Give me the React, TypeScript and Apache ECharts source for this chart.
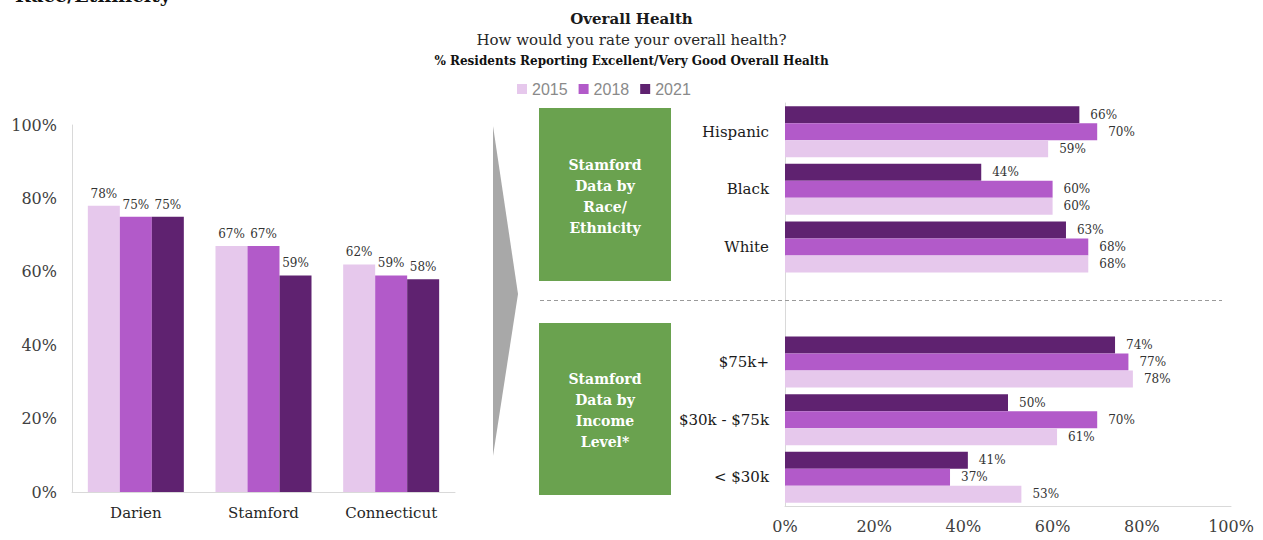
import React, { useEffect, useRef } from "react";
import * as echarts from "echarts";

const years = ["2015", "2018", "2021"];
const colors = ["#e6c8ec", "#b25ac9", "#5f2270"];

const regions = ["Darien", "Stamford", "Connecticut"];
const region2015 = [78, 67, 62];
const region2018 = [75, 67, 59];
const region2021 = [75, 59, 58];

const groups = ["Hispanic", "Black", "White", "", "$75k+", "$30k - $75k", "< $30k"];
const group2015 = [59, 60, 68, null, 78, 61, 53];
const group2018 = [70, 60, 68, null, 77, 70, 37];
const group2021 = [66, 44, 63, null, 74, 50, 41];

const pctTicks = { min: 0, max: 100, interval: 20 };

const SERIF = "DejaVu Serif";
const AXIS_GRAY = "#d9d9d9";

export default function App() {
  const ref = useRef<HTMLDivElement>(null);
  useEffect(() => {
    document.body.style.margin = "0";
    const chart = echarts.init(ref.current!, null, { renderer: "svg" });
    const labelStyle = { fontFamily: SERIF, fontSize: 12, color: "#333" };
    const leftSeries = [region2015, region2018, region2021].map((d, i) => ({
      name: years[i],
      type: "bar",
      xAxisIndex: 0,
      yAxisIndex: 0,
      data: d,
      barWidth: 32,
      barGap: "0%",
      itemStyle: { color: colors[i] },
      label: { show: true, position: "top", distance: 6, formatter: "{c}%", ...labelStyle },
    }));
    const rightData = [group2021, group2018, group2015];
    const rightNames = ["2021", "2018", "2015"];
    const rightColors = [colors[2], colors[1], colors[0]];
    const rightSeries = rightData.map((d, i) => ({
      name: rightNames[i],
      type: "bar",
      xAxisIndex: 1,
      yAxisIndex: 1,
      data: d,
      barWidth: 17,
      barGap: "0%",
      itemStyle: { color: rightColors[i] },
      label: { show: true, position: "right", distance: 11, formatter: "{c}%", ...labelStyle },
    }));

    const boxText = (text: string, cy: number) => ({
      type: "text",
      x: 605,
      y: cy,
      style: {
        text,
        fill: "#ffffff",
        font: `bold 14px "${SERIF}"`,
        align: "center",
        verticalAlign: "middle",
        lineHeight: 21,
      },
    });

    chart.setOption({
      animation: false,
      backgroundColor: "#ffffff",
      title: [
        {
          text: "Overall Health",
          left: "center",
          top: 11,
          padding: 0,
          textStyle: { fontFamily: SERIF, fontSize: 15, fontWeight: "bold", color: "#1a1a1a" },
        },
        {
          text: "How would you rate your overall health?",
          left: "center",
          top: 32,
          padding: 0,
          textStyle: { fontFamily: SERIF, fontSize: 15, fontWeight: "normal", color: "#262626" },
        },
        {
          text: "% Residents Reporting Excellent/Very Good Overall Health",
          left: "center",
          top: 55,
          padding: 0,
          textStyle: { fontFamily: SERIF, fontSize: 12, fontWeight: "bold", color: "#111" },
        },
      ],
      legend: {
        data: years,
        left: 517,
        top: 81,
        padding: 0,
        itemWidth: 10,
        itemHeight: 10,
        itemGap: 11,
        icon: "rect",
        textStyle: { fontFamily: "Liberation Sans", fontSize: 16, color: "#8a8a8a" },
      },
      grid: [
        { left: 72, top: 125, width: 383, height: 367 },
        { left: 785, top: 103, width: 446, height: 403 },
      ],
      xAxis: [
        {
          gridIndex: 0,
          type: "category",
          data: regions,
          axisTick: { show: false },
          axisLine: { lineStyle: { color: AXIS_GRAY } },
          axisLabel: { margin: 13, fontFamily: SERIF, fontSize: 15, color: "#262626" },
        },
        {
          gridIndex: 1,
          type: "value",
          ...pctTicks,
          splitLine: { show: false },
          axisTick: { show: false },
          axisLine: { show: true, lineStyle: { color: AXIS_GRAY } },
          axisLabel: { margin: 12, formatter: "{value}%", fontFamily: SERIF, fontSize: 16, color: "#404040" },
        },
      ],
      yAxis: [
        {
          gridIndex: 0,
          type: "value",
          ...pctTicks,
          splitLine: { show: false },
          axisTick: { show: false },
          axisLine: { show: true, lineStyle: { color: AXIS_GRAY } },
          axisLabel: { margin: 15, formatter: "{value}%", fontFamily: SERIF, fontSize: 16, color: "#404040" },
        },
        {
          gridIndex: 1,
          type: "category",
          inverse: true,
          data: groups,
          axisTick: { show: false },
          axisLine: { show: true, lineStyle: { color: AXIS_GRAY } },
          axisLabel: { margin: 16, fontFamily: SERIF, fontSize: 15, color: "#1a1a1a" },
        },
      ],
      series: [...leftSeries, ...rightSeries],
      graphic: [
        {
          type: "text",
          x: 15,
          y: -15,
          style: { text: "Race/Ethnicity", fill: "#111", font: `bold 19px "${SERIF}"`, verticalAlign: "top" },
        },
        {
          type: "polygon",
          shape: { points: [[493, 126], [518, 294], [493, 456]] },
          style: { fill: "#a8a8a8" },
        },
        { type: "rect", shape: { x: 539, y: 108, width: 132, height: 173 }, style: { fill: "#6aa24f" } },
        { type: "rect", shape: { x: 539, y: 323, width: 132, height: 172 }, style: { fill: "#6aa24f" } },
        boxText("Stamford\nData by\nRace/\nEthnicity", 196),
        boxText("Stamford\nData by\nIncome\nLevel*", 410),
        {
          type: "line",
          shape: { x1: 540, y1: 300.5, x2: 1222, y2: 300.5 },
          style: { stroke: "#9a9a9a", lineWidth: 1, lineDash: [4, 3] },
          z: 10,
        },
      ],
    });
    return () => chart.dispose();
  }, []);
  return (
    <div
      ref={ref}
      style={{ position: "absolute", left: 0, top: 0, width: 1263, height: 540 }}
    />
  );
}
